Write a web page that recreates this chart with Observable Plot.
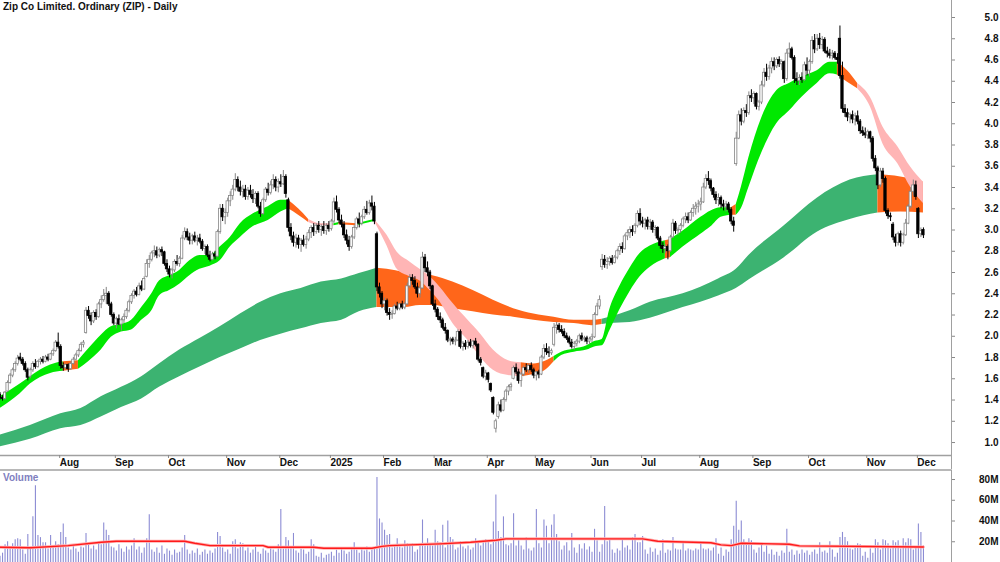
<!DOCTYPE html>
<html><head><meta charset="utf-8">
<script src="https://cdn.jsdelivr.net/npm/d3@7"></script>
<script src="https://cdn.jsdelivr.net/npm/@observablehq/plot@0.6"></script>
<style>
body{margin:0;background:#fff;}
#chart{position:relative;width:1000px;height:562px;overflow:hidden;font-family:"Liberation Sans",Arial,sans-serif;background:#fff;}
#title{position:absolute;left:3px;top:2px;font-size:10px;line-height:10px;font-weight:bold;color:#111;z-index:2;}
#vlabel{position:absolute;left:3px;top:473px;font-size:10px;line-height:10px;font-weight:bold;color:#8080c0;z-index:2;}
#price{position:absolute;left:0;top:0;}
#vol{position:absolute;left:0;top:470px;}
</style></head><body>
<div id="chart">
  <div id="price"></div>
  <div id="vol"></div>
  <div id="title">Zip Co Limited. Ordinary (ZIP) - Daily</div>
  <div id="vlabel">Volume</div>
</div>
<script>
// ---------- daily OHLC (Jul 2024 .. 4 Dec 2025) ----------
const open = [
1.45,1.42,1.41,1.48,1.56,1.63,1.68,1.74,1.80,1.78,1.74,1.68,1.62,1.68,1.74,1.71,1.76,1.78,1.76,1.80,1.78,1.83,1.86,
1.94,1.90,1.72,1.70,1.73,1.69,1.74,1.78,1.82,1.86,1.92,2.03,2.24,2.19,2.14,2.22,2.18,2.30,2.34,2.38,2.40,2.30,
2.20,2.12,2.16,2.11,2.15,2.18,2.24,2.32,2.38,2.42,2.39,2.47,2.44,2.56,2.68,2.72,2.78,2.80,2.76,2.81,2.79,
2.68,2.63,2.58,2.62,2.70,2.68,2.73,2.92,2.98,2.93,2.90,2.94,2.90,2.92,2.89,2.82,2.84,2.76,2.72,2.77,2.75,2.98,3.20,
3.12,3.16,3.27,3.32,3.38,3.47,3.40,3.36,3.38,3.31,3.37,3.33,3.29,3.34,3.22,3.15,3.28,3.38,3.35,3.42,3.47,
3.40,3.45,3.43,3.50,3.28,3.02,2.94,2.88,2.92,2.86,2.90,2.86,2.91,2.97,3.02,2.98,3.04,3.00,3.03,2.99,
3.04,3.01,3.08,3.26,3.19,3.09,3.05,2.95,2.90,2.84,2.93,3.02,3.10,3.06,3.12,3.19,3.16,3.25,3.22,2.96,2.46,
2.40,2.30,2.33,2.22,2.20,2.21,2.28,2.26,2.30,2.27,2.30,2.47,2.55,2.52,2.46,2.40,2.45,2.74,2.64,2.60,
2.47,2.30,2.25,2.18,2.15,2.08,2.05,1.96,1.97,1.95,1.96,2.04,1.90,1.93,1.90,1.94,1.91,1.95,1.92,1.78,1.70,
1.62,1.65,1.55,1.42,1.13,1.24,1.35,1.30,1.40,1.48,1.52,1.60,1.70,1.66,1.58,1.64,1.70,1.68,1.72,
1.68,1.63,1.66,1.64,1.80,1.88,1.85,1.84,1.92,2.08,2.10,2.06,2.04,2.00,1.98,1.94,1.90,1.93,1.95,2.00,1.97,1.98,
1.95,1.97,1.99,2.20,2.28,2.65,2.72,2.67,2.70,2.73,2.69,2.74,2.80,2.84,2.82,2.94,2.97,3.00,2.98,3.04,
3.15,3.08,3.06,3.09,3.03,3.07,3.00,3.02,2.92,2.85,2.82,2.84,2.80,2.93,3.06,2.99,3.00,3.04,3.10,3.12,3.09,3.16,3.20,
3.22,3.24,3.26,3.40,3.48,3.46,3.39,3.33,3.28,3.30,3.24,3.22,3.24,3.19,3.08,3.62,3.86,4.08,4.02,4.12,4.10,
4.26,4.24,4.28,4.16,4.20,4.36,4.48,4.44,4.52,4.58,4.54,4.60,4.56,4.58,4.42,4.66,4.70,4.62,4.42,4.40,4.43,4.41,
4.55,4.50,4.58,4.78,4.70,4.80,4.74,4.79,4.68,4.66,4.64,4.66,4.62,4.80,4.45,4.14,4.10,4.06,4.08,4.04,4.07,4.02,3.93,
3.91,3.89,3.92,3.86,3.67,3.58,3.42,3.55,3.48,3.18,3.13,3.05,2.93,2.88,2.96,2.88,2.95,3.06,3.22,3.36,
3.42,3.20,2.96,3.00];
const high = [
1.47,1.44,1.48,1.58,1.65,1.70,1.76,1.82,1.84,1.80,1.76,1.70,1.70,1.76,1.78,1.77,1.80,1.81,1.82,1.83,1.84,1.88,1.96,
2.03,1.92,1.75,1.74,1.74,1.76,1.80,1.84,1.88,1.94,1.96,2.27,2.28,2.22,2.24,2.25,2.32,2.38,2.44,2.46,2.42,2.32,
2.22,2.18,2.20,2.17,2.21,2.26,2.34,2.40,2.44,2.46,2.50,2.52,2.56,2.72,2.76,2.80,2.85,2.84,2.83,2.84,2.80,
2.72,2.66,2.64,2.72,2.76,2.75,2.95,3.02,3.01,2.97,2.96,2.98,2.95,2.96,2.91,2.86,2.86,2.80,2.79,2.80,3.00,3.24,3.24,
3.20,3.30,3.36,3.42,3.53,3.50,3.46,3.42,3.42,3.40,3.42,3.38,3.36,3.36,3.26,3.30,3.40,3.44,3.46,3.52,3.50,
3.48,3.52,3.56,3.52,3.30,3.06,2.98,2.96,2.95,2.92,2.95,2.94,3.00,3.04,3.06,3.06,3.08,3.05,3.08,3.06,
3.08,3.10,3.30,3.32,3.21,3.14,3.08,3.00,2.94,2.95,3.04,3.12,3.16,3.14,3.22,3.27,3.28,3.32,3.26,2.98,2.50,
2.42,2.36,2.35,2.26,2.24,2.30,2.32,2.31,2.33,2.32,2.50,2.58,2.58,2.56,2.50,2.48,2.79,2.77,2.70,2.62,
2.48,2.34,2.27,2.22,2.17,2.12,2.06,1.99,1.99,1.99,2.06,2.06,1.95,1.96,1.96,1.97,1.96,1.98,1.93,1.80,1.71,
1.68,1.66,1.56,1.43,1.22,1.38,1.40,1.42,1.50,1.54,1.56,1.72,1.74,1.69,1.66,1.72,1.74,1.74,1.75,
1.70,1.67,1.68,1.82,1.92,1.93,1.90,1.88,2.12,2.13,2.12,2.10,2.07,2.03,2.00,1.97,1.95,1.97,2.02,2.03,2.00,2.00,
1.99,2.02,2.22,2.31,2.38,2.77,2.76,2.74,2.75,2.76,2.76,2.82,2.87,2.88,2.96,3.00,3.03,3.04,3.06,3.18,
3.20,3.12,3.11,3.12,3.10,3.09,3.04,3.03,2.94,2.88,2.86,2.86,2.95,3.10,3.08,3.02,3.06,3.12,3.16,3.16,3.18,3.24,3.26,
3.28,3.30,3.44,3.52,3.55,3.48,3.40,3.36,3.34,3.32,3.28,3.27,3.26,3.21,3.12,3.92,4.12,4.14,4.15,4.18,4.30,
4.32,4.30,4.29,4.22,4.40,4.52,4.56,4.55,4.62,4.62,4.62,4.63,4.60,4.59,4.70,4.76,4.72,4.64,4.48,4.46,4.48,4.58,
4.62,4.60,4.82,4.84,4.84,4.85,4.82,4.81,4.72,4.70,4.69,4.68,4.66,4.92,4.58,4.18,4.14,4.10,4.12,4.10,4.12,4.04,3.97,
3.96,3.94,3.93,3.88,3.70,3.60,3.58,3.58,3.50,3.20,3.16,3.07,2.96,2.98,2.99,2.97,3.10,3.24,3.40,3.47,
3.46,3.21,3.02,3.02];
const low = [
1.40,1.39,1.40,1.47,1.55,1.61,1.66,1.72,1.76,1.72,1.66,1.58,1.60,1.66,1.69,1.70,1.73,1.74,1.75,1.76,1.77,1.81,1.85,
1.88,1.69,1.67,1.68,1.66,1.68,1.73,1.77,1.80,1.85,1.89,2.02,2.16,2.10,2.12,2.15,2.17,2.26,2.32,2.30,2.28,2.18,
2.10,2.07,2.10,2.05,2.12,2.16,2.22,2.30,2.35,2.37,2.38,2.42,2.43,2.55,2.64,2.70,2.74,2.73,2.74,2.75,2.66,
2.60,2.55,2.54,2.60,2.66,2.65,2.72,2.90,2.90,2.86,2.86,2.88,2.85,2.87,2.80,2.77,2.74,2.70,2.71,2.72,2.74,2.96,3.08,
3.05,3.12,3.22,3.28,3.36,3.36,3.32,3.30,3.28,3.28,3.30,3.25,3.24,3.20,3.12,3.14,3.26,3.32,3.33,3.38,3.36,
3.35,3.40,3.42,3.30,2.98,2.90,2.84,2.83,2.82,2.79,2.84,2.82,2.89,2.92,2.94,2.96,2.97,2.94,2.96,2.95,
2.98,2.99,3.06,3.16,3.06,3.02,2.92,2.86,2.80,2.82,2.91,3.00,3.02,3.04,3.10,3.14,3.14,3.18,3.05,2.42,2.36,
2.26,2.24,2.19,2.15,2.16,2.20,2.24,2.24,2.25,2.25,2.29,2.45,2.48,2.44,2.36,2.36,2.44,2.60,2.56,2.44,
2.28,2.22,2.15,2.12,2.06,2.02,1.94,1.91,1.92,1.91,1.95,1.88,1.86,1.87,1.88,1.89,1.88,1.90,1.76,1.72,1.60,
1.58,1.56,1.47,1.26,1.09,1.22,1.28,1.29,1.38,1.44,1.48,1.59,1.64,1.55,1.52,1.62,1.66,1.65,1.66,
1.60,1.58,1.60,1.63,1.78,1.82,1.80,1.82,1.90,2.02,2.03,2.02,1.98,1.96,1.92,1.88,1.87,1.90,1.93,1.95,1.94,1.92,
1.92,1.94,1.98,2.19,2.25,2.62,2.64,2.63,2.66,2.67,2.68,2.72,2.76,2.78,2.81,2.90,2.92,2.94,2.96,3.02,
3.04,3.02,3.00,3.00,3.00,2.97,2.94,2.90,2.82,2.78,2.78,2.72,2.79,2.92,2.96,2.95,2.97,3.02,3.06,3.06,3.08,3.12,3.14,
3.16,3.18,3.25,3.38,3.42,3.36,3.30,3.24,3.22,3.20,3.18,3.17,3.16,3.05,2.98,3.60,3.85,3.98,4.00,4.06,4.08,
4.20,4.18,4.13,4.12,4.18,4.34,4.40,4.41,4.47,4.50,4.52,4.53,4.50,4.38,4.40,4.62,4.60,4.38,4.36,4.36,4.38,4.40,
4.45,4.44,4.56,4.66,4.68,4.70,4.70,4.66,4.62,4.61,4.60,4.60,4.56,4.42,4.10,4.06,4.02,4.00,4.00,3.98,3.99,3.90,3.88,
3.86,3.85,3.82,3.64,3.55,3.38,3.40,3.44,3.15,3.10,3.08,2.90,2.84,2.85,2.84,2.86,2.94,3.05,3.20,3.32,
3.28,2.92,2.93,2.92];
const close = [
1.42,1.41,1.47,1.56,1.63,1.68,1.74,1.79,1.78,1.74,1.68,1.61,1.68,1.74,1.71,1.76,1.78,1.76,1.80,1.78,1.83,1.86,1.94,
1.90,1.72,1.70,1.73,1.69,1.74,1.78,1.82,1.86,1.92,1.94,2.24,2.19,2.14,2.22,2.18,2.30,2.34,2.38,2.40,2.30,2.20,
2.12,2.16,2.11,2.15,2.18,2.24,2.32,2.38,2.42,2.39,2.47,2.44,2.54,2.68,2.72,2.78,2.80,2.76,2.81,2.79,2.68,
2.63,2.58,2.62,2.70,2.68,2.73,2.92,2.98,2.93,2.90,2.94,2.90,2.92,2.89,2.82,2.84,2.76,2.72,2.77,2.75,2.98,3.20,3.12,
3.16,3.27,3.32,3.38,3.47,3.40,3.36,3.38,3.31,3.37,3.33,3.29,3.34,3.22,3.15,3.28,3.38,3.35,3.42,3.47,3.40,
3.45,3.43,3.50,3.34,3.02,2.94,2.88,2.92,2.86,2.90,2.86,2.91,2.97,3.02,2.98,3.04,3.00,3.03,2.99,3.04,
3.01,3.08,3.26,3.19,3.09,3.05,2.95,2.90,2.84,2.93,3.02,3.10,3.06,3.12,3.19,3.16,3.25,3.22,3.08,2.46,2.40,
2.30,2.33,2.22,2.20,2.21,2.28,2.26,2.30,2.27,2.30,2.47,2.55,2.52,2.46,2.40,2.45,2.74,2.64,2.60,2.47,
2.30,2.25,2.18,2.15,2.08,2.05,1.96,1.97,1.95,1.96,2.04,1.90,1.93,1.90,1.94,1.91,1.95,1.92,1.78,1.75,1.62,
1.65,1.59,1.49,1.28,1.20,1.35,1.30,1.40,1.48,1.52,1.54,1.70,1.66,1.58,1.64,1.70,1.68,1.72,1.68,
1.63,1.66,1.64,1.80,1.88,1.85,1.84,1.86,2.08,2.10,2.06,2.04,2.00,1.98,1.94,1.90,1.93,1.95,2.00,1.97,1.98,1.95,
1.97,1.99,2.20,2.28,2.34,2.72,2.67,2.70,2.73,2.69,2.74,2.80,2.84,2.82,2.94,2.97,3.00,2.98,3.04,3.15,
3.08,3.06,3.09,3.03,3.07,3.00,3.02,2.92,2.85,2.82,2.84,2.80,2.93,3.06,2.99,3.00,3.04,3.10,3.12,3.09,3.16,3.20,3.22,
3.24,3.26,3.40,3.48,3.46,3.39,3.33,3.28,3.30,3.24,3.22,3.24,3.19,3.08,3.04,3.86,4.08,4.02,4.12,4.10,4.26,
4.24,4.28,4.16,4.20,4.36,4.48,4.44,4.52,4.58,4.54,4.60,4.56,4.58,4.42,4.66,4.70,4.62,4.42,4.40,4.43,4.41,4.55,
4.50,4.58,4.78,4.70,4.80,4.74,4.79,4.68,4.66,4.64,4.66,4.62,4.60,4.45,4.14,4.10,4.06,4.08,4.04,4.07,4.02,3.93,3.91,
3.89,3.92,3.86,3.67,3.58,3.42,3.55,3.48,3.18,3.13,3.12,2.93,2.88,2.96,2.88,2.95,3.06,3.22,3.36,3.42,
3.31,2.96,2.99,2.95];
// daily volume, millions
const volume = [
6,9,17,20,14,18,22,23,22,12,8,27,15,44,74,26,24,19,19,13,26,16,20,
17,29,37,24,14,12,16,13,10,15,14,28,18,13,16,12,19,17,38,31,26,15,
14,11,17,13,10,15,12,16,23,12,15,9,14,23,46,12,10,14,9,16,8,
13,11,7,12,9,10,14,26,12,8,11,9,13,7,10,12,8,11,9,13,29,25,14,
10,12,8,20,22,13,19,18,11,14,9,12,15,10,8,13,11,9,14,12,10,
17,51,13,24,21,14,28,11,9,13,12,8,10,22,17,6,5,9,4,7,
8,10,6,12,9,13,11,8,10,14,19,12,9,13,11,15,10,12,14,82,42,
38,31,26,27,14,16,23,15,14,21,18,17,18,10,12,16,41,17,23,17,
16,31,20,19,36,14,40,24,22,12,14,20,15,13,16,12,14,23,20,16,21,
22,21,17,39,65,30,24,44,17,16,18,47,16,21,16,12,24,13,11,
14,51,18,14,41,35,18,36,46,27,20,12,16,19,11,28,14,9,17,13,18,12,
15,10,32,21,10,17,54,20,23,12,9,13,11,23,14,16,12,24,27,19,
19,25,12,8,14,10,13,7,11,22,9,12,11,24,13,12,12,19,11,13,12,11,13,
12,20,13,12,13,11,14,23,8,14,6,12,10,22,35,59,31,40,22,18,23,
21,12,9,14,18,10,16,8,12,7,10,6,11,9,32,10,12,7,11,8,12,9,
11,7,10,12,8,19,10,11,9,20,12,5,9,24,29,24,20,13,12,14,18,17,6,
10,4,13,9,22,19,12,22,21,18,13,21,19,21,13,23,19,23,22,12,
14,37,29,16];
// volume moving average (red line), sampled: trading-day index and value (M)
const volMAIdx = [0,12,27,40,46,73,77,83,104,106,124,128,147,151,154,162,174,186,196,200,254,260,281,285,289,293,312,316,365];
const volMAVal = [14.7,14.2,16.3,19.5,20.5,20.5,18.6,16.3,16.3,14.7,14.7,13.8,13.8,15.5,16.3,17,18,19.5,21.5,22.8,22.8,20.5,19,17,16.3,18.6,17.6,16,15];

// short-term moving-average ribbon (edges read at sample days), state g/o/p
const shortIdx = [0,8,12,20,25,31,35,40,44,48,52,56,60,63,67,71,75,79,83,87,91,95,100,106,111,114,118,122,127,132,134,141,148,153,157,162,166,170,174,179,185,190,195,201,206,211,215,219,222,227,232,235,238,241,245,249,253,257,263,265,270,277,281,285,289,291,293,296,301,307,312,317,323,328,331,335,339,344,349,355,360,365];
const shortTop = [1.43,1.55,1.62,1.73,1.76,1.77,1.88,2.01,2.09,2.11,2.15,2.27,2.40,2.52,2.57,2.62,2.71,2.76,2.76,2.84,2.93,3.06,3.15,3.22,3.28,3.28,3.20,3.10,3.06,3.06,3.07,3.06,3.10,2.95,2.79,2.70,2.63,2.56,2.46,2.31,2.15,2.02,1.87,1.77,1.75,1.74,1.76,1.81,1.85,1.88,1.91,1.95,1.97,2.25,2.47,2.64,2.78,2.85,2.90,2.91,2.99,3.12,3.18,3.21,3.21,3.24,3.40,3.68,4.05,4.31,4.38,4.44,4.50,4.58,4.58,4.50,4.38,4.25,3.97,3.78,3.59,3.45];
const shortBot = [1.32,1.46,1.55,1.65,1.67,1.69,1.76,1.87,1.99,2.04,2.06,2.15,2.24,2.38,2.43,2.49,2.57,2.63,2.66,2.71,2.84,2.93,3.03,3.09,3.17,3.20,3.14,3.07,3.04,3.04,3.05,3.04,3.08,2.85,2.63,2.56,2.52,2.43,2.32,2.12,1.96,1.80,1.68,1.63,1.62,1.64,1.67,1.76,1.82,1.85,1.87,1.90,1.91,2.05,2.25,2.42,2.56,2.65,2.73,2.74,2.84,2.96,3.03,3.12,3.14,3.14,3.20,3.40,3.72,4.00,4.12,4.25,4.38,4.47,4.46,4.39,4.33,4.16,3.81,3.62,3.40,3.25];
const shortState = ("gggg"+"o"+"gggggggggggggggggggg"+"oo"+"pp"+"g"+"o"+"g"+"pppppppppppp"+"ooo"+"ggggggggggg"+"o"+"ggggg"+"o"+"ggggggggg"+"oo"+"pppppp").split("");

// long-term moving-average ribbon
const longIdx = [0,12,24,32,40,48,56,63,71,79,87,95,103,111,119,127,135,142,149,153,160,166,171,179,187,195,203,211,219,227,234,238,241,249,257,270,284,291,296,310,323,336,347,356,365];
const longTop = [1.07,1.16,1.27,1.32,1.43,1.52,1.62,1.74,1.87,1.98,2.09,2.21,2.32,2.40,2.45,2.51,2.54,2.59,2.64,2.63,2.60,2.59,2.57,2.51,2.43,2.34,2.26,2.21,2.18,2.15,2.15,2.16,2.18,2.24,2.32,2.40,2.54,2.63,2.76,3.04,3.30,3.47,3.52,3.50,3.45];
const longBot = [0.96,1.03,1.13,1.16,1.24,1.33,1.41,1.52,1.62,1.71,1.80,1.88,1.96,2.02,2.07,2.12,2.15,2.23,2.27,2.27,2.27,2.29,2.29,2.26,2.23,2.20,2.18,2.15,2.13,2.12,2.10,2.11,2.12,2.13,2.17,2.27,2.38,2.45,2.53,2.74,2.98,3.10,3.16,3.17,3.16];
const longState = ("gggggggggggggggggg"+"ooooooooooooo"+"ggggggggggg"+"ooo").split("");

// axis labels
const monthLabels = ["Aug","Sep","Oct","Nov","Dec","2025","Feb","Mar","Apr","May","Jun","Jul","Aug","Sep","Oct","Nov","Dec"];
const priceTicks = [1.0,1.2,1.4,1.6,1.8,2.0,2.2,2.4,2.6,2.8,3.0,3.2,3.4,3.6,3.8,4.0,4.2,4.4,4.6,4.8,5.0];
const volumeTicks = [20,40,60,80];
const asxHolidays = ["2024-12-25","2024-12-26","2025-01-01","2025-01-27","2025-04-18","2025-04-21","2025-04-25","2025-06-09"];

// ---------- checks ----------
const N = close.length;
[open,high,low,volume].forEach((a,k)=>{ if (a.length!==N) throw new Error("length mismatch "+k+": "+a.length+" vs "+N); });
if (shortTop.length!==shortIdx.length||shortBot.length!==shortIdx.length||shortState.length!==shortIdx.length) throw new Error("short band lengths");
if (longTop.length!==longIdx.length||longBot.length!==longIdx.length||longState.length!==longIdx.length) throw new Error("long band lengths");

// ---------- trading calendar -> month ticks ----------
const hol = new Set(asxHolidays);
const tradingDays = [];
for (let d = new Date(Date.UTC(2024,6,1)); tradingDays.length < N; d.setUTCDate(d.getUTCDate()+1)) {
  const wd = d.getUTCDay();
  if (wd !== 0 && wd !== 6 && !hol.has(d.toISOString().slice(0,10))) tradingDays.push(new Date(d));
}
const monthStarts = [];
tradingDays.forEach((d,i)=>{ if (i>0 && d.getUTCMonth()!==tradingDays[i-1].getUTCMonth()) monthStarts.push(i); });
const monthLabelOf = new Map(monthStarts.map((i,k)=>[i, monthLabels[k]]));

// ---------- derived tables ----------
const days = d3.range(N).map(i => ({i, o: open[i], h: high[i], l: low[i], c: close[i], v: volume[i], up: close[i] >= open[i]}));

function ribbon(idx, top, bot, state, colors) {
  const rows = []; let seg = 0;
  for (let k = 0; k < idx.length; k++) {
    if (k > 0 && state[k] !== state[k-1]) {
      rows.push({seg, i: idx[k], top: top[k], bot: bot[k], color: colors[state[k-1]]});
      seg++;
    }
    rows.push({seg, i: idx[k], top: top[k], bot: bot[k], color: colors[state[k]]});
  }
  return rows;
}
const shortRows = ribbon(shortIdx, shortTop, shortBot, shortState, {g: "#00e800", o: "#ff661a", p: "#ffb5b5"});
const longRows = ribbon(longIdx, longTop, longBot, longState, {g: "#3cb371", o: "#ff661a"});
const volMA = volMAIdx.map((i,k)=>({i, v: volMAVal[k]}));

const xDomain = [0.198, 376.09];
const yDomain = [0.878, 5.16];
const font = {fontFamily: "'Liberation Sans', Arial, sans-serif", fontSize: "10px", fontWeight: "bold", color: "#111", background: "transparent", overflow: "visible"};
const lineGray = "#a0a0a0";

const pricePlot = Plot.plot({
  width: 1000, height: 470,
  marginLeft: 0, marginRight: 49, marginTop: 0, marginBottom: 15,
  x: {domain: xDomain},
  y: {domain: yDomain},
  color: {type: "identity"},
  style: font,
  marks: [
    Plot.areaY(longRows, {x: "i", y1: "bot", y2: "top", z: "seg", fill: "color", curve: "monotone-x"}),
    Plot.areaY(shortRows, {x: "i", y1: "bot", y2: "top", z: "seg", fill: "color", curve: "monotone-x"}),
    Plot.ruleX(days, {x: "i", y1: "l", y2: "h", stroke: d => d.up ? "#858585" : "#000", strokeWidth: 1}),
    Plot.rect(days, {x1: d => d.i - 0.46, x2: d => d.i + 0.46, y1: "o", y2: "c",
      fill: d => d.up ? "#fff" : "#000", stroke: d => d.up ? "#858585" : "#000", strokeWidth: 0.8}),
    Plot.ruleY([yDomain[0]], {stroke: lineGray, strokeWidth: 1.3}),
    Plot.ruleY([0.7415], {stroke: lineGray, strokeWidth: 1.3}),
    Plot.ruleX([xDomain[1]], {y1: yDomain[1], y2: 0.7415, stroke: lineGray, strokeWidth: 1}),
    Plot.axisY(priceTicks, {anchor: "right", tickSize: 3, tickPadding: 44, textAnchor: "end",
      tickFormat: d => d.toFixed(1), stroke: "#888", fill: "#111", label: null}),
    Plot.axisX(monthStarts, {anchor: "bottom", tickSize: 3, tickPadding: 0.5, textAnchor: "start", dx: 1.5,
      tickFormat: i => monthLabelOf.get(i), stroke: "#888", fill: "#111", label: null})
  ]
});
document.getElementById("price").appendChild(pricePlot);

const volPlot = Plot.plot({
  width: 1000, height: 92,
  marginLeft: 0, marginRight: 49, marginTop: 0, marginBottom: 0,
  x: {domain: xDomain, axis: null},
  y: {domain: [0, 88.7]},
  color: {type: "identity"},
  style: font,
  marks: [
    Plot.ruleX(days, {x: "i", y1: 0, y2: "v", stroke: "#8c8cd4", strokeWidth: 1.1}),
    Plot.line(volMA, {x: "i", y: "v", stroke: "#ffb0b0", strokeWidth: 3}),
    Plot.line(volMA, {x: "i", y: "v", stroke: "#ff1a1a", strokeWidth: 1.4}),
    Plot.ruleX([xDomain[1]], {stroke: lineGray, strokeWidth: 1}),
    Plot.axisY(volumeTicks, {anchor: "right", tickSize: 3, tickPadding: 44, textAnchor: "end",
      tickFormat: d => d + "M", stroke: "#888", fill: "#111", label: null})
  ]
});
document.getElementById("vol").appendChild(volPlot);
</script>
</body></html>
